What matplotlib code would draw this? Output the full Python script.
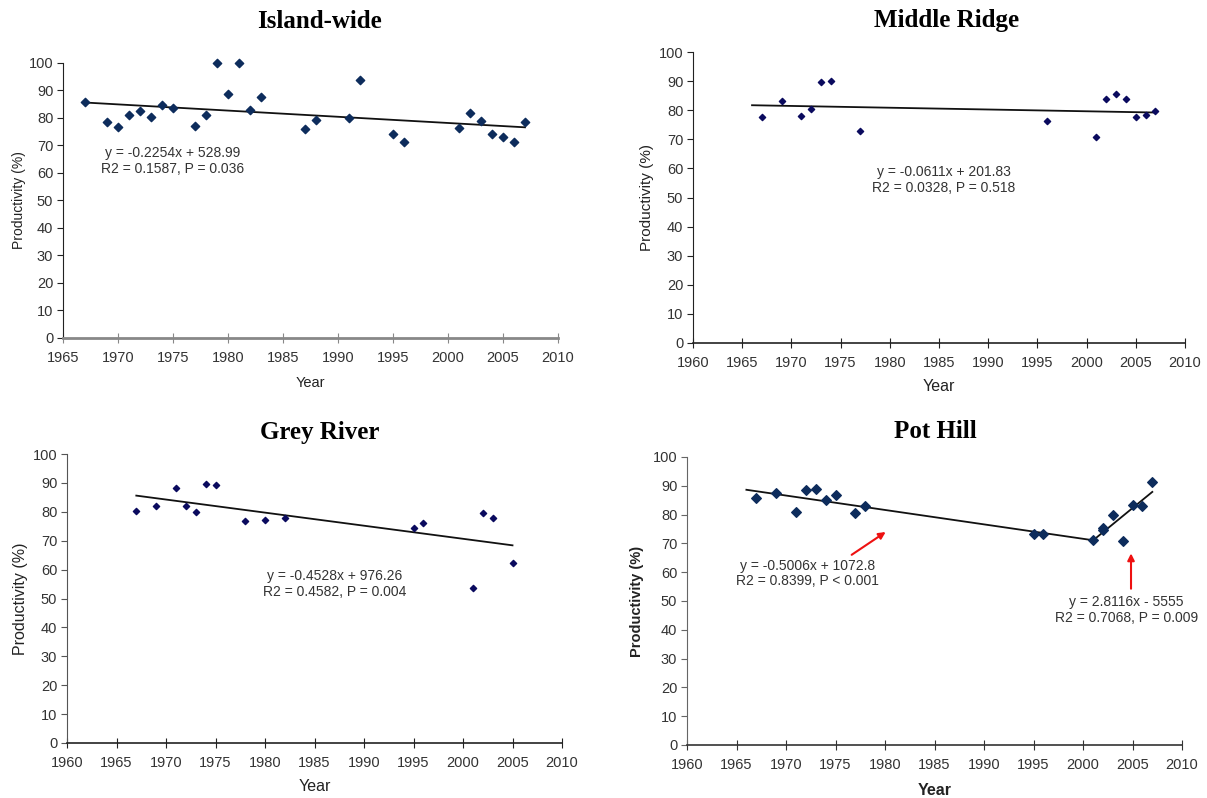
import numpy as np
import matplotlib
matplotlib.use('Agg')
import matplotlib.pyplot as plt

plt.rcParams['font.family'] = ['Liberation Sans', 'DejaVu Sans']

# Island-wide
island_years = [1967, 1969, 1970, 1971, 1972, 1973, 1974, 1975, 1977, 1978, 1979, 1980, 1981, 1982,
                1983, 1987, 1988, 1991, 1992, 1995, 1996, 2001, 2002, 2003, 2004, 2005, 2006, 2007]
island_vals = [85.7, 78.4, 76.7, 81.2, 82.4, 80.4, 84.8, 83.5, 77.0, 81.1, 100, 88.7, 100, 83.0,
               87.8, 76.1, 79.2, 80.1, 93.9, 74.3, 71.4, 76.4, 81.7, 78.8, 74.3, 73.2, 71.4, 78.4]
island_fit = (-0.2254, 528.99, 1967, 2007)

# Middle Ridge
ridge_years = [1967, 1969, 1971, 1972, 1973, 1974, 1977, 1996, 2001, 2002, 2003, 2004, 2005, 2006, 2007]
ridge_vals = [77.7, 83.2, 78.1, 80.5, 89.8, 89.9, 72.7, 76.3, 70.7, 83.7, 85.5, 84.0, 77.5, 78.4, 79.7]
ridge_fit = (-0.0611, 201.83, 1966, 2007)

# Grey River
grey_years = [1967, 1969, 1971, 1972, 1973, 1974, 1975, 1978, 1980, 1982, 1995, 1996, 2001, 2002, 2003, 2005]
grey_vals = [80.4, 81.9, 88.2, 82.1, 79.8, 89.5, 89.3, 76.8, 77.3, 77.9, 74.3, 76.1, 53.5, 79.7, 77.7, 62.2]
grey_fit = (-0.4528, 976.26, 1967, 2005)

# Pot Hill
pot_years = [1967, 1969, 1971, 1972, 1973, 1974, 1975, 1977, 1978, 1995, 1996, 2001, 2002, 2002,
             2003, 2004, 2005, 2006, 2007]
pot_vals = [85.6, 87.5, 81.0, 88.5, 88.9, 85.1, 86.8, 80.4, 83.1, 73.1, 73.3, 71.3, 74.5, 75.3,
            79.8, 70.7, 83.2, 83.1, 91.2]
pot_fit1 = (-0.5006, 1072.8, 1966, 2001)
pot_fit2 = (2.8116, -5555, 2001, 2007)

W, H = 1207, 798
fig = plt.figure(figsize=(W / 100, H / 100), dpi=100)


def box(l, r, t, b):
    return [l / W, 1 - b / H, (r - l) / W, (b - t) / H]


def trend(ax, fit):
    m, c, x0, x1 = fit
    xs = np.array([x0, x1])
    ax.plot(xs, m * xs + c, color='#111111', lw=1.3, zorder=2)


def style(ax, xmin, left_col, bottom_col, bottom_lw):
    ax.set_xlim(xmin, 2010)
    ax.set_ylim(0, 100)
    ax.set_xticks(range(xmin, 2011, 5))
    ax.set_yticks(range(0, 101, 10))
    for s in ['top', 'right']:
        ax.spines[s].set_visible(False)
    ax.spines['left'].set_color(left_col)
    ax.spines['bottom'].set_color(bottom_col)
    ax.spines['bottom'].set_linewidth(bottom_lw)
    ax.tick_params(axis='x', direction='inout', length=7, colors='#333333', labelsize=10.5, pad=6)
    ax.tick_params(axis='y', direction='out', length=4, colors='#333333', labelsize=10.5, pad=3)
    ax.tick_params(axis='x', color=bottom_col)
    ax.tick_params(axis='y', color=left_col)


title_font = dict(family=['Liberation Serif', 'DejaVu Serif'], fontweight='bold', fontsize=18)
eq_font = dict(fontsize=10, color='#333333', ha='center', linespacing=1.15)

# panel 1
ax1 = fig.add_axes(box(63, 558, 63, 338))
style(ax1, 1965, '#222222', '#888888', 2)
ax1.scatter(island_years, island_vals, marker='D', s=18, color='#0d2c5c', zorder=3, clip_on=False)
trend(ax1, island_fit)
ax1.text(1975, 60, 'y = -0.2254x + 528.99\nR2 = 0.1587, P = 0.036', **eq_font)
ax1.set_xlabel('Year', fontsize=10.5, color='#222222', labelpad=8)
ax1.set_ylabel('Productivity (%)', fontsize=10, color='#222222', labelpad=2)
fig.text(319 / W, 1 - 21 / H, 'Island-wide', ha='center', va='center', **title_font)

# panel 2
ax2 = fig.add_axes(box(693, 1185, 52, 343))
style(ax2, 1960, '#222222', '#222222', 1.2)
ax2.scatter(ridge_years, ridge_vals, marker='D', s=10, color='#0a0a5e', zorder=3, clip_on=False)
trend(ax2, ridge_fit)
ax2.text(1985.5, 52, 'y = -0.0611x + 201.83\nR2 = 0.0328, P = 0.518', **eq_font)
ax2.set_xlabel('Year', fontsize=11.5, color='#222222', labelpad=6)
ax2.set_ylabel('Productivity (%)', fontsize=11, color='#222222', labelpad=3)
fig.text(947 / W, 1 - 21 / H, 'Middle Ridge', ha='center', va='center', **title_font)

# panel 3
ax3 = fig.add_axes(box(67, 562, 454, 743))
style(ax3, 1960, '#555555', '#222222', 1.2)
ax3.scatter(grey_years, grey_vals, marker='D', s=10, color='#0a0a5e', zorder=3, clip_on=False)
trend(ax3, grey_fit)
ax3.text(1987, 51, 'y = -0.4528x + 976.26\nR2 = 0.4582, P = 0.004', **eq_font)
ax3.set_xlabel('Year', fontsize=11.5, color='#222222', labelpad=6)
ax3.set_ylabel('Productivity (%)', fontsize=11.5, color='#222222', labelpad=3)
fig.text(320 / W, 1 - 432 / H, 'Grey River', ha='center', va='center', **title_font)

# panel 4
ax4 = fig.add_axes(box(687, 1182, 457, 745))
style(ax4, 1960, '#666666', '#333333', 1.2)
ax4.scatter(pot_years, pot_vals, marker='D', s=24, color='#0d2c5c', zorder=3, clip_on=False)
trend(ax4, pot_fit1)
trend(ax4, pot_fit2)
ax4.text(1972.2, 55.5, 'y = -0.5006x + 1072.8\nR2 = 0.8399, P < 0.001', **eq_font)
ax4.text(2004.4, 42.8, 'y = 2.8116x - 5555\nR2 = 0.7068, P = 0.009', **eq_font)
ax4.annotate('', xy=(1980.3, 74.5), xytext=(1976.4, 65.5),
             arrowprops=dict(arrowstyle='-|>', color='#ee1111', lw=1.5, mutation_scale=10))
ax4.annotate('', xy=(2004.85, 67.5), xytext=(2004.85, 53.3),
             arrowprops=dict(arrowstyle='-|>', color='#ee1111', lw=1.5, mutation_scale=10))
ax4.set_xlabel('Year', fontsize=11.5, fontweight='bold', color='#222222', labelpad=8)
ax4.set_ylabel('Productivity (%)', fontsize=10.5, fontweight='bold', color='#222222', labelpad=6)
fig.text(935 / W, 1 - 432 / H, 'Pot Hill', ha='center', va='center', **title_font)

fig.savefig('out.png', dpi=100, facecolor='white')
